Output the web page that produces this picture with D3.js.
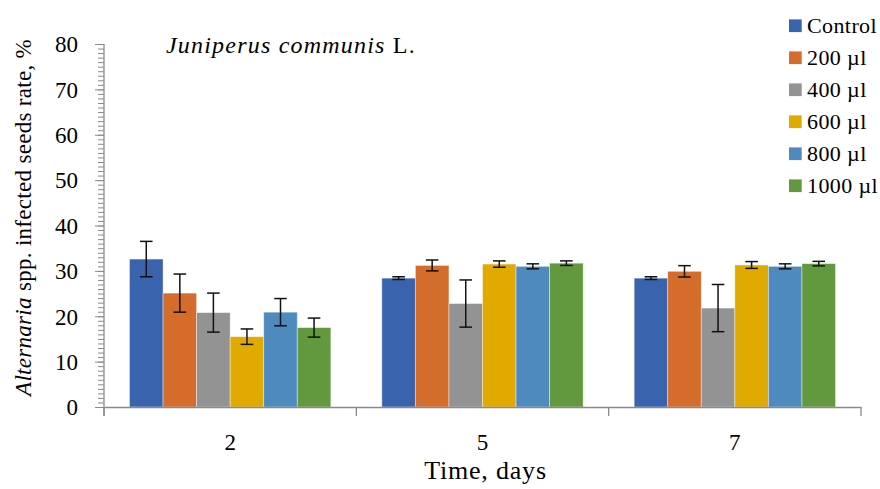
<!DOCTYPE html>
<html>
<head>
<meta charset="utf-8">
<script src="https://cdn.jsdelivr.net/npm/d3@7"></script>
<style>
  body { margin: 0; background: #fff; }
  text { font-family: "Palatino Linotype", "Book Antiqua", Palatino, "Liberation Serif", serif; fill: #000; }
</style>
</head>
<body>
<div id="container"></div>
<script>
/* CONSTANTS AND GLOBALS */
const width = 880;
const height = 489;
const margin = { top: 44, right: 19, bottom: 82, left: 104 };

/* DATA */
const days = ["2", "5", "7"];
const series = ["Control", "200 µl", "400 µl", "600 µl", "800 µl", "1000 µl"];
// mean infected rate, one array per treatment (days 2, 5, 7)
const control = [32.6, 28.4, 28.4];
const ul200 = [25.1, 31.2, 29.9];
const ul400 = [20.8, 22.8, 21.8];
const ul600 = [15.5, 31.5, 31.3];
const ul800 = [20.9, 31.0, 31.0];
const ul1000 = [17.5, 31.7, 31.6];
// error (±)
const errControl = [3.9, 0.3, 0.3];
const err200 = [4.2, 1.2, 1.25];
const err400 = [4.3, 5.2, 5.2];
const err600 = [1.7, 0.7, 0.75];
const err800 = [3.0, 0.55, 0.55];
const err1000 = [2.1, 0.5, 0.5];
const yTicks = [0, 10, 20, 30, 40, 50, 60, 70, 80];

const values = [control, ul200, ul400, ul600, ul800, ul1000];
const errors = [errControl, err200, err400, err600, err800, err1000];
const colors = ["#3A63AD", "#D46C2B", "#939393", "#E1AA00", "#4E8ABE", "#62993E"];

const rows = [];
series.forEach((s, i) => {
  days.forEach((d, j) => {
    rows.push({ series: s, day: d, value: values[i][j], err: errors[i][j] });
  });
});

/* SCALES */
const x0 = d3.scaleBand()
  .domain(days)
  .range([margin.left, width - margin.right])
  .padding(0);

const x1 = d3.scaleBand()
  .domain(series)
  .range([0, x0.bandwidth()])
  .paddingInner(0)
  .paddingOuter(0.76);

const yScale = d3.scaleLinear()
  .domain([0, 80])
  .range([height - margin.bottom, margin.top]);

const colorScale = d3.scaleOrdinal()
  .domain(series)
  .range(colors);

/* HTML ELEMENTS */
const svg = d3.select("#container")
  .append("svg")
  .attr("width", width)
  .attr("height", height);

// bars
svg.append("g")
  .selectAll("rect")
  .data(rows)
  .join("rect")
  .attr("x", d => x0(d.day) + x1(d.series))
  .attr("y", d => yScale(d.value))
  .attr("width", x1.bandwidth())
  .attr("height", d => yScale(0) - yScale(d.value))
  .attr("fill", d => colorScale(d.series))
  .attr("stroke", "#fff")
  .attr("stroke-opacity", 0.5)
  .attr("stroke-width", 0.8);

// error bars
const cap = 6.3;
const eb = svg.append("g")
  .attr("stroke", "#111")
  .attr("stroke-width", 1.5);

eb.selectAll("line.v")
  .data(rows)
  .join("line")
  .attr("class", "v")
  .attr("x1", d => x0(d.day) + x1(d.series) + x1.bandwidth() / 2)
  .attr("x2", d => x0(d.day) + x1(d.series) + x1.bandwidth() / 2)
  .attr("y1", d => yScale(d.value + d.err))
  .attr("y2", d => yScale(d.value - d.err));

["top", "bottom"].forEach(side => {
  eb.selectAll("line." + side)
    .data(rows)
    .join("line")
    .attr("class", side)
    .attr("x1", d => x0(d.day) + x1(d.series) + x1.bandwidth() / 2 - cap)
    .attr("x2", d => x0(d.day) + x1(d.series) + x1.bandwidth() / 2 + cap)
    .attr("y1", d => yScale(side === "top" ? d.value + d.err : d.value - d.err))
    .attr("y2", d => yScale(side === "top" ? d.value + d.err : d.value - d.err));
});

// y axis minor ticks
svg.append("g")
  .attr("class", "y-minor")
  .attr("transform", `translate(${margin.left},0)`)
  .call(d3.axisLeft(yScale).tickValues(d3.range(0, 81, 1)).tickSize(6).tickFormat(""))
  .call(g => g.select(".domain").remove())
  .call(g => g.selectAll("line").attr("stroke", "#8a8a8a"));

// y axis major
svg.append("g")
  .attr("class", "y-axis")
  .attr("transform", `translate(${margin.left},0)`)
  .call(d3.axisLeft(yScale).tickValues(yTicks).tickSize(9).tickPadding(17).tickSizeOuter(0))
  .call(g => g.select(".domain").attr("stroke", "#8a8a8a").attr("stroke-width", 1.3)
    .attr("d", `M0,${yScale(80)}V${yScale(0) + 9}`))
  .call(g => g.selectAll("line").attr("stroke", "#8a8a8a"))
  .call(g => g.selectAll("text").style("font-size", "23px").attr("dy", "0.34em"));

// x axis
const xAxis = svg.append("g")
  .attr("class", "x-axis")
  .attr("transform", `translate(0,${yScale(0)})`)
  .call(d3.axisBottom(x0).tickSize(0).tickPadding(27).tickSizeOuter(0))
  .call(g => g.select(".domain").attr("stroke", "#8a8a8a").attr("stroke-width", 1.3))
  .call(g => g.selectAll("text").style("font-size", "23px"));

xAxis.selectAll("line.sep")
  .data(days.map(d => x0(d)).concat([x0.range()[1]]))
  .join("line")
  .attr("class", "sep")
  .attr("x1", d => d)
  .attr("x2", d => d)
  .attr("y1", 0)
  .attr("y2", 9)
  .attr("stroke", "#8a8a8a")
  .attr("stroke-width", 1.3);

// axis titles
svg.append("text")
  .attr("transform", `translate(31,${(yScale(0) + yScale(80)) / 2 - 8}) rotate(-90)`)
  .attr("text-anchor", "middle")
  .style("font-size", "23px")
  .style("letter-spacing", "0.3px")
  .call(t => {
    t.append("tspan").style("font-style", "italic").text("Alternaria");
    t.append("tspan").text(" spp. infected seeds rate, %");
  });

svg.append("text")
  .attr("x", (x0.range()[0] + x0.range()[1]) / 2 + 3)
  .attr("y", 479)
  .attr("text-anchor", "middle")
  .style("font-size", "26px")
  .style("letter-spacing", "0.8px")
  .text("Time, days");

// chart title
svg.append("text")
  .attr("x", 166)
  .attr("y", 53)
  .style("font-size", "24px")
  .style("letter-spacing", "1.2px")
  .call(t => {
    t.append("tspan").style("font-style", "italic").text("Juniperus communis");
    t.append("tspan").text(" L.");
  });

// legend
const legend = svg.append("g")
  .selectAll("g")
  .data(series)
  .join("g")
  .attr("transform", (d, i) => `translate(789,${25.7 + i * 32})`);

legend.append("rect")
  .attr("x", 0)
  .attr("y", -6.3)
  .attr("width", 12.7)
  .attr("height", 12.7)
  .attr("fill", d => colorScale(d));

legend.append("text")
  .attr("x", 18)
  .attr("y", 7.5)
  .style("font-size", "22px")
  .style("letter-spacing", "0.4px")
  .text(d => d);
</script>
</body>
</html>
